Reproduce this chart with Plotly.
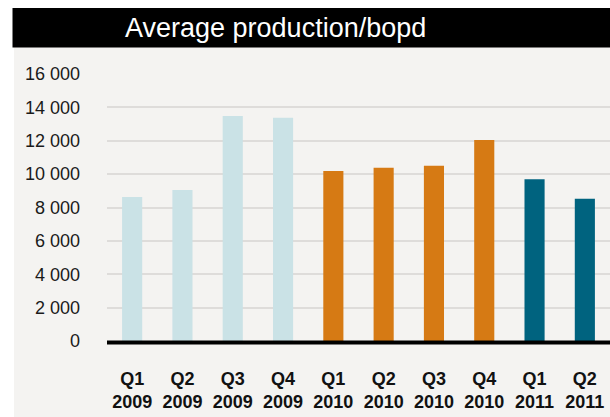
import plotly.graph_objects as go

# data
quarters = ["Q1", "Q2", "Q3", "Q4", "Q1", "Q2", "Q3", "Q4", "Q1", "Q2"]
years = ["2009", "2009", "2009", "2009", "2010", "2010", "2010", "2010", "2011", "2011"]
production = [8630, 9050, 13480, 13380, 10190, 10380, 10500, 12050, 9700, 8520]

YEAR_COLORS = {"2009": "#cae2e6", "2010": "#d67a14", "2011": "#00637f"}
FONT = "Liberation Sans, Arial, sans-serif"

W, H = 610, 417
L, R, T, B = 107, 0, 74, 76


def px_x(px):
    """Pixel x -> paper x."""
    return (px - L) / (W - L - R)


def px_y(py):
    """Pixel y (from top) -> paper y."""
    return (H - B - py) / (H - T - B)


labels = [f"<b>{q}<br>{y}</b>" for q, y in zip(quarters, years)]

fig = go.Figure()
fig.add_trace(
    go.Bar(
        x=labels,
        y=production,
        marker=dict(color=[YEAR_COLORS[y] for y in years], line=dict(width=0)),
        showlegend=False,
    )
)

fig.update_layout(
    width=W,
    height=H,
    margin=dict(l=L, r=R, t=T, b=B),
    paper_bgcolor="white",
    plot_bgcolor="rgba(0,0,0,0)",
    bargap=0.6,
    separators=". ",
    font=dict(family=FONT, color="#1a1a1a"),
    shapes=[
        # grey panel
        dict(type="rect", xref="paper", yref="paper", layer="below",
             x0=px_x(14), x1=px_x(W), y0=px_y(H + 2), y1=px_y(47),
             fillcolor="#f4f3f1", line=dict(width=0)),
        # black title bar
        dict(type="rect", xref="paper", yref="paper", layer="below",
             x0=px_x(12.5), x1=px_x(W), y0=px_y(47.5), y1=px_y(8),
             fillcolor="black", line=dict(width=0)),
        # thick baseline under the bars
        dict(type="line", xref="paper", yref="paper", layer="above",
             x0=0, x1=1, y0=px_y(342.5), y1=px_y(342.5),
             line=dict(color="black", width=4)),
    ],
    annotations=[
        dict(text="Average production/bopd", xref="paper", yref="paper",
             x=px_x(275), y=px_y(28), xanchor="center", yanchor="middle",
             showarrow=False, font=dict(family=FONT, size=27, color="white")),
    ],
)

fig.update_yaxes(
    range=[0, 16000],
    dtick=2000,
    tickformat=",d",
    showgrid=True,
    gridcolor="#dedcda",
    gridwidth=2,
    zeroline=False,
    showline=False,
    ticks="",
    ticklabelstandoff=26,
    tickfont=dict(family=FONT, size=18, color="#1a1a1a"),
)
fig.update_xaxes(
    showgrid=False,
    showline=False,
    ticks="",
    ticklabelstandoff=25,
    tickfont=dict(family=FONT, size=18, color="#111111"),
)

fig.write_html(
    "out.html",
    config={"displayModeBar": False},
    post_script="document.body.style.margin='0';document.body.style.overflow='hidden';",
)
